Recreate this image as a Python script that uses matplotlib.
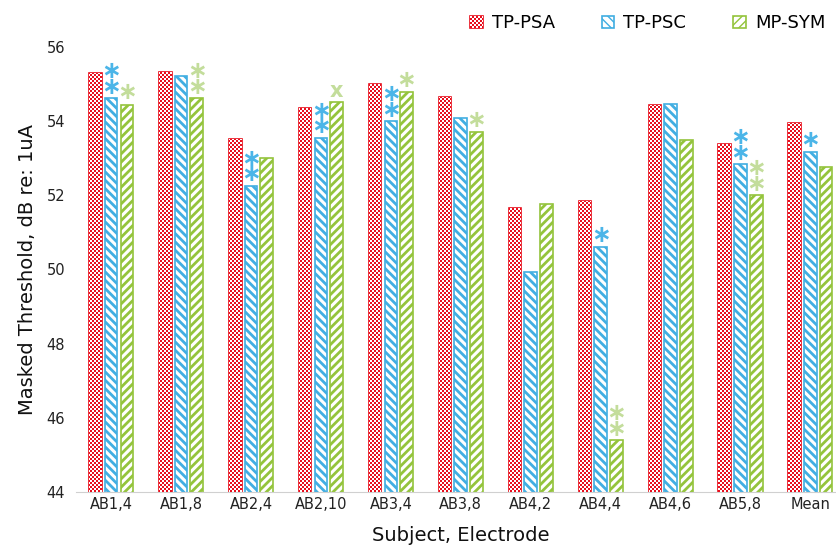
import matplotlib.pyplot as plt
import numpy as np

subjects = ["AB1,4", "AB1,8", "AB2,4", "AB2,10", "AB3,4", "AB3,8",
            "AB4,2", "AB4,4", "AB4,6", "AB5,8", "Mean"]
tp_psa = [55.29, 55.33, 53.51, 54.34, 55.01, 54.64, 51.65, 51.84, 54.44, 53.39, 53.95]
tp_psc = [54.62, 55.21, 52.26, 53.55, 54.00, 54.08, 49.94, 50.60, 54.46, 52.84, 53.16]
mp_sym = [54.44, 54.62, 53.00, 54.52, 54.78, 53.70, 51.77, 45.40, 53.48, 52.01, 52.77]

# significance marks drawn above the bars
psc_marks = ["**", "", "**", "**", "**", "", "", "*", "", "**", "*"]
sym_marks = ["*", "**", "", "x", "*", "*", "", "**", "", "**", ""]

red = "#e8101e"
blue = "#41aee2"
green = "#94c43c"
blue_mark = "#4bb5e8"
green_mark = "#c3dd9b"

W, H = 837, 552
fig = plt.figure(figsize=(W / 100, H / 100), dpi=100)
ax = fig.add_axes([0.091, 0.109, 0.919, 0.806])

x = np.arange(len(subjects))
w = 0.18
off = 0.225

psa_bars = ax.bar(x - off, tp_psa, w, color="white", edgecolor=red,
                  linewidth=1.2, label="TP-PSA")
with plt.rc_context({"hatch.linewidth": 2.0}):
    ax.bar(x, tp_psc, w, color="white", edgecolor=blue, hatch="\\\\\\\\",
           linewidth=1.2, label="TP-PSC")
    ax.bar(x + off, mp_sym, w, color="white", edgecolor=green, hatch="////",
           linewidth=1.2, label="MP-SYM")

def put_marks(xs, tops, marks, col):
    for xi, top, m in zip(xs, tops, marks):
        if not m:
            continue
        if m == "x":
            ax.annotate("x", (xi, top), xytext=(0, 7.5), textcoords="offset points",
                        ha="center", va="center", color=col, fontsize=15,
                        fontweight="bold")
        else:
            n = len(m)
            ax.annotate("\n".join(["\u2217"] * n), (xi, top),
                        xytext=(0, 9 + 4.8 * (n - 1)), textcoords="offset points",
                        ha="center", va="center", color=col, fontsize=17,
                        fontweight="bold", linespacing=0.56)

put_marks(x, tp_psc, psc_marks, blue_mark)
put_marks(x + off, mp_sym, sym_marks, green_mark)

ax.set_ylim(44, 56)
ax.set_xlim(-0.5, len(subjects) - 0.5)
ax.set_yticks(range(44, 57, 2))
ax.set_xticks(x)
ax.set_xticklabels(subjects)
ax.tick_params(axis="both", length=0, labelsize=10.5, colors="#222222")
ax.tick_params(axis="y", pad=8)
for s in ["top", "right", "left"]:
    ax.spines[s].set_visible(False)
ax.spines["bottom"].set_color("#d0d0d0")

ax.set_xlabel("Subject, Electrode", fontsize=14, color="#111111", labelpad=10)
ax.set_ylabel("Masked Threshold, dB re: 1uA", fontsize=14, color="#111111", labelpad=7)

leg = ax.legend(loc="upper right", bbox_to_anchor=(0.995, 1.11), ncol=3, frameon=False,
                fontsize=13, handlelength=0.7, handleheight=0.7, handletextpad=0.5,
                columnspacing=2.6)

# red/white checkerboard fill, 2 px cells, clipped to each TP-PSA bar
ii, jj = np.mgrid[0:H, 0:W]
cells = ((ii // 2 + jj // 2) % 2 == 0)
checker = np.ones((H, W, 3))
checker[cells] = [0.91, 0.06, 0.12]
for patch in psa_bars.patches:
    im = fig.figimage(checker, xo=0, yo=0, origin="upper", zorder=3)
    im.set_clip_path(patch.get_path(), patch.get_transform())
    im.set_clip_box(ax.bbox)
lp = leg.get_patches()[0]
im = fig.figimage(checker, xo=0, yo=0, origin="upper", zorder=3)
im.set_clip_path(lp.get_path(), lp.get_transform())

fig.savefig("out.png", dpi=100)
